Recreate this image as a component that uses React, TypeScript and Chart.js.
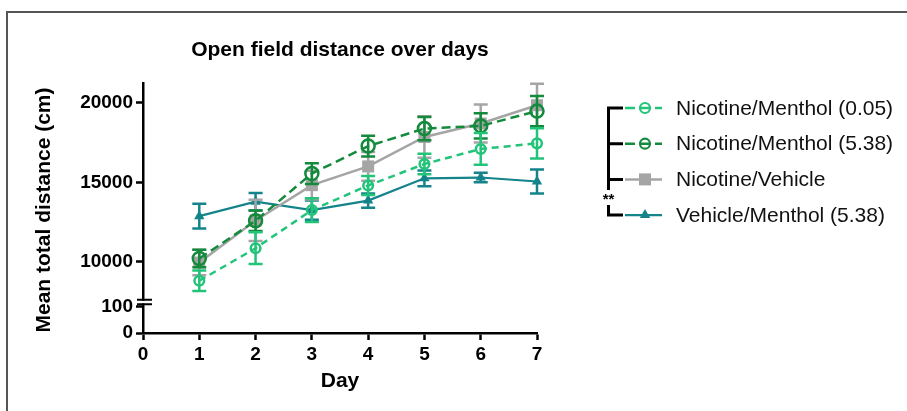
import React, { useEffect, useRef } from 'react';
import { Chart, registerables } from 'chart.js';

Chart.register(...registerables);

// ---------- data ----------
const chartTitle = 'Open field distance over days';
const xTitle = 'Day';
const yTitle = 'Mean total distance (cm)';
const days = [1, 2, 3, 4, 5, 6, 7];
const xTicks = [0, 1, 2, 3, 4, 5, 6, 7];
const upperTicks = [10000, 15000, 20000];
const lowerTicks = [0, 100];
const seriesNames = [
  'Nicotine/Menthol (0.05)',
  'Nicotine/Menthol (5.38)',
  'Nicotine/Vehicle',
  'Vehicle/Menthol (5.38)',
];
const nicMen005 = [8800, 10850, 13250, 14800, 16150, 17100, 17450];
const nicMen005Err = [650, 1000, 750, 600, 650, 1000, 950];
const nicMen538 = [10200, 12580, 15550, 17280, 18380, 18550, 19480];
const nicMen538Err = [550, 650, 650, 650, 730, 800, 950];
const nicVeh = [9950, 12600, 14820, 16000, 17850, 18700, 19850];
const nicVehErr = [800, 1300, 900, 900, 1300, 1200, 1350];
const vehMen = [12870, 13780, 13250, 13850, 15250, 15300, 15050];
const vehMenErr = [780, 550, 600, 450, 500, 300, 750];
const significance = '**';

// ---------- styles ----------
const FONT = '"Liberation Sans", Arial, Helvetica, sans-serif';
const styles = [
  { color: '#22c47a', dash: [7, 5], marker: 'circle', r: 4.8, fill: false, width: 2.5 },
  { color: '#138a3c', dash: [9, 5], marker: 'circle', r: 6.5, fill: false, width: 2.5 },
  { color: '#a5a5a5', dash: [], marker: 'rect', r: 8.5, fill: true, width: 2.5 },
  { color: '#14848a', dash: [], marker: 'triangle', r: 6, fill: true, width: 2.2 },
];
const values = [nicMen005, nicMen538, nicVeh, vehMen];
const errors = [nicMen005Err, nicMen538Err, nicVehErr, vehMenErr];

function drawMarker(ctx: CanvasRenderingContext2D, kind: string, x: number, y: number, r: number, color: string, fill: boolean, lw: number) {
  ctx.save();
  ctx.setLineDash([]);
  ctx.strokeStyle = color;
  ctx.fillStyle = color;
  ctx.lineWidth = lw;
  ctx.beginPath();
  if (kind === 'circle') {
    ctx.arc(x, y, r, 0, Math.PI * 2);
  } else if (kind === 'rect') {
    const s = r / Math.SQRT2;
    ctx.rect(x - s, y - s, 2 * s, 2 * s);
  } else {
    ctx.moveTo(x, y - r);
    ctx.lineTo(x + r * 0.866, y + r * 0.5);
    ctx.lineTo(x - r * 0.866, y + r * 0.5);
    ctx.closePath();
  }
  if (fill) ctx.fill();
  else ctx.stroke();
  ctx.restore();
}

const customPlugin = {
  id: 'customDraw',
  afterDatasetDraw(chart: any, args: any) {
    const i = args.index;
    const err = errors[i];
    const vals = values[i];
    const st = styles[i];
    const xs = chart.scales.x;
    const ys = chart.scales.y;
    const ctx: CanvasRenderingContext2D = chart.ctx;
    ctx.save();
    ctx.strokeStyle = st.color;
    ctx.lineWidth = 2.5;
    ctx.setLineDash([]);
    days.forEach((d, k) => {
      const px = xs.getPixelForValue(d);
      const top = ys.getPixelForValue(vals[k] + err[k]);
      const bot = ys.getPixelForValue(vals[k] - err[k]);
      ctx.beginPath();
      ctx.moveTo(px, top);
      ctx.lineTo(px, bot);
      ctx.moveTo(px - 7, top);
      ctx.lineTo(px + 7, top);
      ctx.moveTo(px - 7, bot);
      ctx.lineTo(px + 7, bot);
      ctx.stroke();
    });
    ctx.restore();
  },
  afterDraw(chart: any) {
    const ctx: CanvasRenderingContext2D = chart.ctx;
    const area = chart.chartArea;
    const ys = chart.scales.y;
    ctx.save();
    // frame
    ctx.strokeStyle = '#555';
    ctx.lineWidth = 2;
    ctx.beginPath();
    ctx.moveTo(7, 411);
    ctx.lineTo(7, 12);
    ctx.lineTo(907, 12);
    ctx.stroke();

    // axis break
    const bY = ys.bottom;
    ctx.fillStyle = '#fff';
    ctx.fillRect(area.left - 4, bY - 1.2, 8, 2.6);
    ctx.strokeStyle = '#000';
    ctx.lineWidth = 2;
    ctx.beginPath();
    ctx.moveTo(area.left - 6, bY - 2.3);
    ctx.lineTo(area.left + 9, bY - 2.3);
    ctx.moveTo(area.left - 6, bY + 2.3);
    ctx.lineTo(area.left + 9, bY + 2.3);
    ctx.stroke();

    // titles
    ctx.fillStyle = '#000';
    ctx.textAlign = 'center';
    ctx.textBaseline = 'alphabetic';
    ctx.font = `bold 21px ${FONT}`;
    ctx.fillText(chartTitle, (area.left + area.right) / 2, 56);
    ctx.font = `bold 21px ${FONT}`;
    ctx.fillText(xTitle, (area.left + area.right) / 2, 387);
    ctx.save();
    ctx.translate(50, (area.top + area.bottom) / 2 + 2);
    ctx.rotate(-Math.PI / 2);
    ctx.fillText(yTitle, 0, 0);
    ctx.restore();

    // legend
    const lx0 = 625;
    const lx1 = 662;
    const mx = 645;
    const tx = 676;
    const bx = 608.5;
    const rows = seriesNames.map((_, i) => 108 + i * 35.7);
    seriesNames.forEach((name, i) => {
      const st = styles[i];
      const y = rows[i];
      ctx.save();
      ctx.strokeStyle = st.color;
      ctx.lineWidth = st.width;
      ctx.setLineDash(st.dash.length ? [10, 5] : []);
      ctx.beginPath();
      ctx.moveTo(lx0, y);
      ctx.lineTo(lx1, y);
      ctx.stroke();
      ctx.restore();
      const r = st.marker === 'circle' ? 5 : st.r;
      drawMarker(ctx, st.marker, mx, y, r, st.color, st.fill, 2.2);
      ctx.fillStyle = '#111';
      ctx.font = `21px ${FONT}`;
      ctx.textAlign = 'left';
      ctx.textBaseline = 'middle';
      ctx.fillText(name, tx, y + 1);
    });
    // bracket
    ctx.strokeStyle = '#000';
    ctx.lineWidth = 3;
    ctx.setLineDash([]);
    ctx.beginPath();
    ctx.moveTo(623, rows[0]);
    ctx.lineTo(bx, rows[0]);
    ctx.lineTo(bx, 190);
    ctx.moveTo(bx, rows[1]);
    ctx.lineTo(623, rows[1]);
    ctx.moveTo(bx, rows[2]);
    ctx.lineTo(623, rows[2]);
    ctx.moveTo(bx, 205);
    ctx.lineTo(bx, rows[3]);
    ctx.lineTo(623, rows[3]);
    ctx.stroke();
    ctx.fillStyle = '#000';
    ctx.font = `bold 15px ${FONT}`;
    ctx.textAlign = 'center';
    ctx.textBaseline = 'middle';
    ctx.fillText(significance, bx, 200);
    ctx.restore();
  },
};

const axisGrid = {
  display: true,
  drawOnChartArea: false,
  drawTicks: true,
  tickLength: 7,
  tickWidth: 2.5,
  tickColor: '#000',
};
const axisBorder = { display: true, color: '#000', width: 2.5 };
const tickFont = { family: FONT, size: 19, weight: 'bold' as const };
const plainLabel = (v: any) => String(v);

export default function App() {
  const ref = useRef<HTMLCanvasElement>(null);
  useEffect(() => {
    if (!ref.current) return;
    const datasets = values.map((vals, i) => ({
      label: seriesNames[i],
      data: days.map((d, k) => ({ x: d, y: vals[k] })),
      xAxisID: 'x',
      yAxisID: 'y',
      borderColor: styles[i].color,
      backgroundColor: styles[i].fill ? styles[i].color : 'rgba(0,0,0,0)',
      borderWidth: styles[i].width,
      borderDash: styles[i].dash,
      pointStyle: styles[i].marker,
      pointRadius: styles[i].r,
      pointBorderWidth: styles[i].fill ? 0 : 2.5,
      pointBorderColor: styles[i].color,
      pointBackgroundColor: styles[i].fill ? styles[i].color : 'rgba(0,0,0,0)',
      fill: false,
      tension: 0,
      clip: false as any,
    }));
    const chart = new Chart(ref.current, {
      type: 'line',
      data: { datasets },
      options: {
        animation: false,
        responsive: false,
        events: [],
        layout: { padding: { top: 83, left: 0, right: 370, bottom: 0 } },
        plugins: {
          legend: { display: false },
          title: { display: false },
          tooltip: { enabled: false },
        },
        scales: {
          x: {
            type: 'linear',
            position: 'bottom',
            min: 0,
            max: 7,
            afterBuildTicks: (s: any) => {
              s.ticks = xTicks.map((v) => ({ value: v }));
            },
            afterFit: (s: any) => {
              s.height = 78;
            },
            grid: axisGrid,
            border: axisBorder,
            ticks: { color: '#000', font: tickFont, padding: 3, maxRotation: 0, autoSkip: false, callback: plainLabel },
          },
          yLow: {
            type: 'linear',
            position: 'left',
            stack: 'left',
            stackWeight: 31,
            min: 0,
            max: 118,
            afterBuildTicks: (s: any) => {
              s.ticks = lowerTicks.map((v) => ({ value: v }));
            },
            afterFit: (s: any) => {
              s.width = 143;
            },
            grid: axisGrid,
            border: axisBorder,
            ticks: { color: '#000', font: tickFont, padding: 3, autoSkip: false, callback: plainLabel },
          },
          y: {
            type: 'linear',
            position: 'left',
            stack: 'left',
            stackWeight: 219,
            min: 7465,
            max: 21250,
            afterBuildTicks: (s: any) => {
              s.ticks = upperTicks.map((v) => ({ value: v }));
            },
            afterFit: (s: any) => {
              s.width = 143;
            },
            grid: axisGrid,
            border: axisBorder,
            ticks: { color: '#000', font: tickFont, padding: 3, autoSkip: false, callback: plainLabel },
          },
        } as any,
      },
      plugins: [customPlugin as any],
    });
    return () => chart.destroy();
  }, []);
  return (
    <div style={{ position: 'fixed', left: 0, top: 0, width: 907, height: 411, background: '#fff' }}>
      <canvas ref={ref} width={907} height={411} style={{ display: 'block' }} />
    </div>
  );
}
